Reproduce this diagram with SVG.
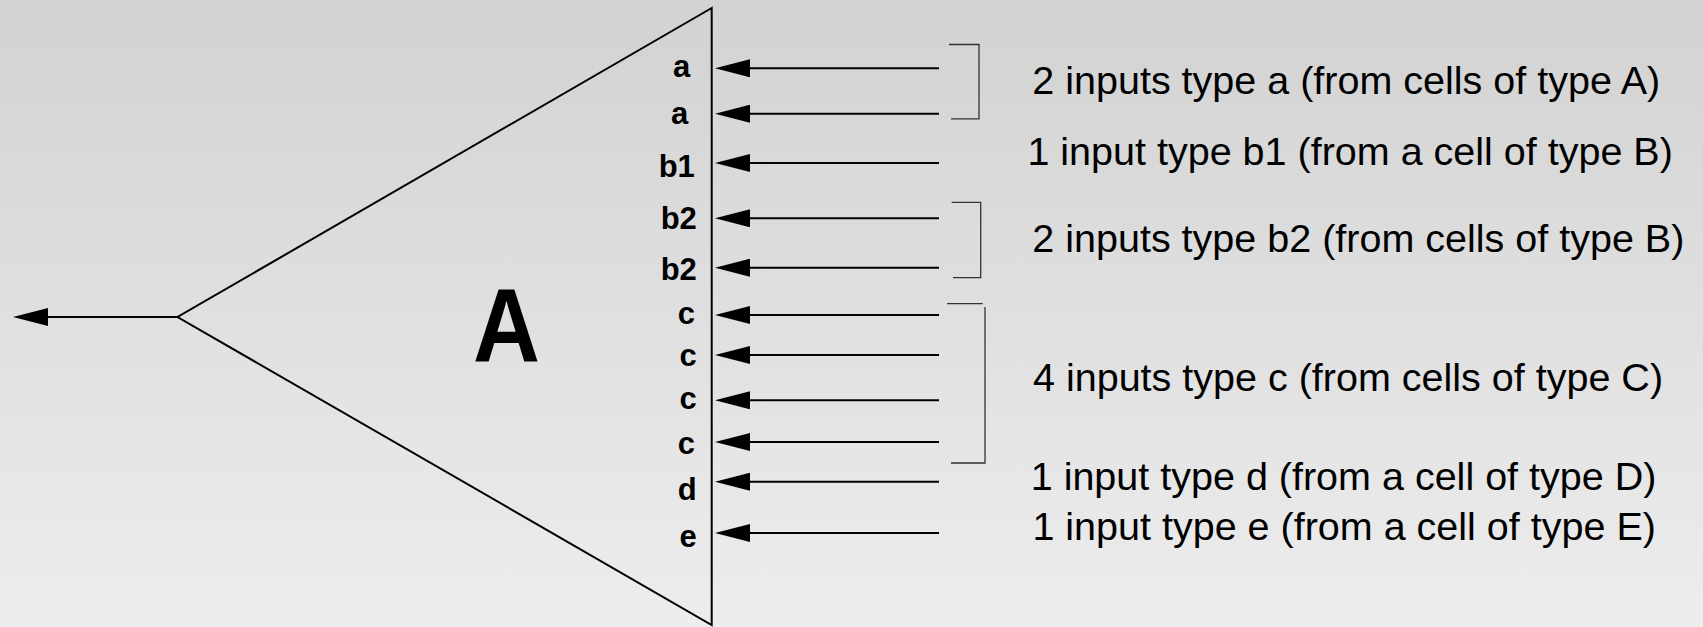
<svg xmlns="http://www.w3.org/2000/svg" width="1703" height="627" viewBox="0 0 1703 627">
<defs>
<linearGradient id="bg" x1="0" y1="0" x2="0" y2="1">
<stop offset="0" stop-color="#d2d2d2"/>
<stop offset="1" stop-color="#ededed"/>
</linearGradient>
<marker id="ah" viewBox="0 0 35 18" refX="0" refY="9" markerWidth="35" markerHeight="18" markerUnits="userSpaceOnUse" orient="auto-start-reverse">
<path d="M0,0 L35,9 L0,18 z" fill="#000"/>
</marker>
</defs>
<style>
.lbl{font-family:"Liberation Sans",Arial,sans-serif;font-weight:bold;font-size:31px;fill:#000}
.desc{font-family:"Liberation Sans",Arial,sans-serif;font-size:39.5px;fill:#000}
.edge{stroke:#000;stroke-width:2;fill:none}
.br{stroke:#333;stroke-width:1.3;fill:none}
</style>
<rect width="1703" height="627" fill="url(#bg)"/>
<g id="cell-A">
<path d="M711.7,8 L177.5,317 L711.7,625 Z" fill="none" stroke="#000" stroke-width="2"/>
<text transform="translate(473,361) scale(0.9,1)" font-family="Liberation Sans,Arial,sans-serif" font-weight="bold" font-size="103">A</text>
<text class="lbl" x="673" y="76.7">a</text>
<text class="lbl" x="671" y="124">a</text>
<text class="lbl" x="658.7" y="177.3">b1</text>
<text class="lbl" x="660.7" y="229.3">b2</text>
<text class="lbl" x="660.7" y="280">b2</text>
<text class="lbl" x="677.8" y="324.3">c</text>
<text class="lbl" x="679.5" y="366">c</text>
<text class="lbl" x="679.5" y="409">c</text>
<text class="lbl" x="677.8" y="454">c</text>
<text class="lbl" x="677.8" y="500">d</text>
<text class="lbl" x="679.5" y="546.7">e</text>
</g>
<g id="connectors">
<line class="edge" x1="177.5" y1="317" x2="48" y2="317" marker-end="url(#ah)"/>
<line class="edge" x1="939" y1="68.3" x2="750" y2="68.3" marker-end="url(#ah)"/>
<line class="edge" x1="939" y1="113.7" x2="750" y2="113.7" marker-end="url(#ah)"/>
<line class="edge" x1="939" y1="163" x2="750" y2="163" marker-end="url(#ah)"/>
<line class="edge" x1="939" y1="218.3" x2="750" y2="218.3" marker-end="url(#ah)"/>
<line class="edge" x1="939" y1="267.7" x2="750" y2="267.7" marker-end="url(#ah)"/>
<line class="edge" x1="939" y1="315" x2="750" y2="315" marker-end="url(#ah)"/>
<line class="edge" x1="939" y1="355" x2="750" y2="355" marker-end="url(#ah)"/>
<line class="edge" x1="939" y1="400.3" x2="750" y2="400.3" marker-end="url(#ah)"/>
<line class="edge" x1="939" y1="442" x2="750" y2="442" marker-end="url(#ah)"/>
<line class="edge" x1="939" y1="481.7" x2="750" y2="481.7" marker-end="url(#ah)"/>
<line class="edge" x1="939" y1="533" x2="750" y2="533" marker-end="url(#ah)"/>
</g>
<g id="brackets">
<polyline class="br" points="949,44.5 979,44.5 979,118.8 951,118.8"/>
<polyline class="br" points="951.7,202.3 980.7,202.3 980.7,277.7 953,277.7"/>
<polyline class="br" points="947,303.7 982.7,303.7"/>
<polyline class="br" points="985,307 985,463 951,463"/>
</g>
<g id="descriptions">
<text class="desc" x="1032.3" y="93.7">2 inputs type a (from cells of type A)</text>
<text class="desc" x="1027.4" y="165">1 input type b1 (from a cell of type B)</text>
<text class="desc" x="1032.3" y="251.7">2 inputs type b2 (from cells of type B)</text>
<text class="desc" x="1033" y="390.7">4 inputs type c (from cells of type C)</text>
<text class="desc" x="1030.7" y="490">1 input type d (from a cell of type D)</text>
<text class="desc" x="1032.4" y="540">1 input type e (from a cell of type E)</text>
</g>
</svg>
